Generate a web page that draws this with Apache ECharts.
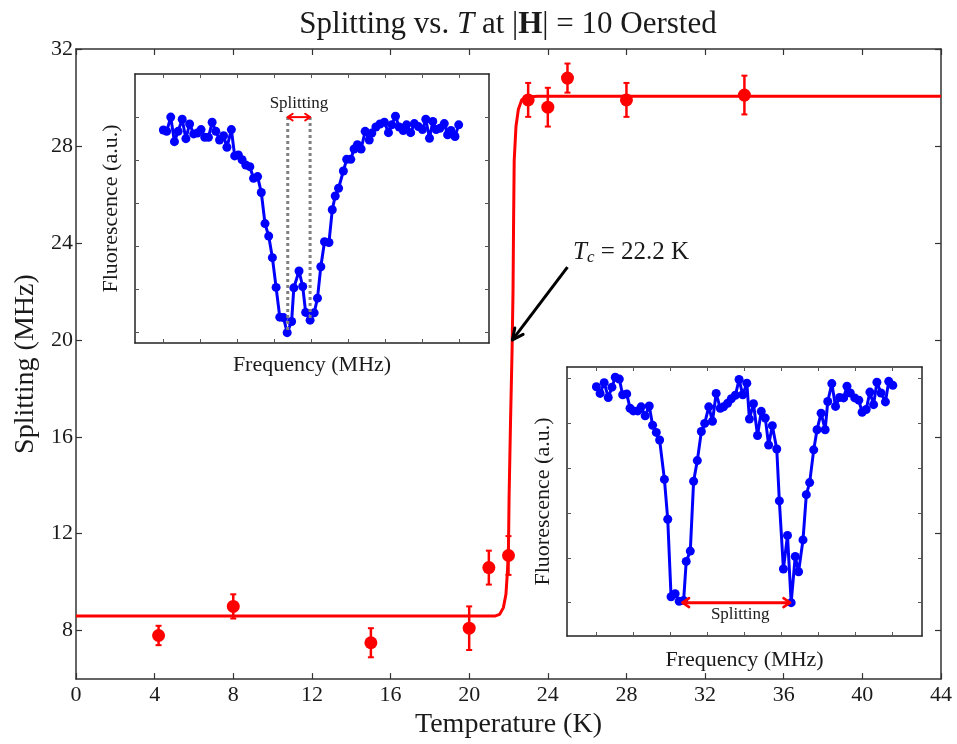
<!DOCTYPE html>
<html><head><meta charset="utf-8">
<script src="https://cdn.jsdelivr.net/npm/echarts@6/dist/echarts.min.js"></script>
<style>html,body{margin:0;padding:0;background:#fff}#c{width:957px;height:744px}</style>
</head><body><div id="c"></div>
<script>
// ---- main data ----
const temps = [4.2, 8, 15, 20, 21, 22, 23, 24, 25, 28, 34];
const splitting = [7.8, 9.0, 7.5, 8.1, 10.6, 11.1, 29.9, 29.6, 30.8, 29.9, 30.1];
const splittingErr = [0.4, 0.5, 0.6, 0.9, 0.7, 0.8, 0.7, 0.8, 0.6, 0.7, 0.8];
const fitT = [0, 21.3, 21.55, 21.74, 21.87, 21.95, 22.0, 22.03, 22.1, 22.18, 22.23, 22.26, 22.29, 22.38, 22.5, 22.67, 22.92, 23.5, 44];
const fitS = [8.6, 8.6, 8.67, 8.95, 9.5, 10.5, 11.5, 13.5, 16.5, 19.5, 22, 25, 27.4, 28.8, 29.5, 29.9, 30.02, 30.05, 30.05];
const xTicks = [0, 4, 8, 12, 16, 20, 24, 28, 32, 36, 40, 44];
const yTicks = [8, 12, 16, 20, 24, 28, 32];
// ---- inset 1 (single dip, small splitting) ----
const inset1X = [0.00,0.09,0.20,0.30,0.40,0.51,0.61,0.71,0.82,0.92,1.02,1.12,1.22,1.32,1.42,1.52,1.63,1.72,1.84,1.93,2.03,2.13,2.23,2.34,2.44,2.55,2.65,2.75,2.85,2.95,3.05,3.15,3.25,3.35,3.47,3.53,3.67,3.77,3.85,3.97,4.08,4.17,4.26,4.36,4.48,4.57,4.65,4.74,4.87,4.96,5.07,5.16,5.25,5.35,5.46,5.57,5.64,5.75,5.86,5.98,6.09,6.18,6.28,6.38,6.49,6.58,6.69,6.79,6.90,7.01,7.10,7.20,7.29,7.38,7.48,7.60,7.69,7.78,7.89,7.99];
const inset1Y = [4.70,4.67,5.00,4.43,4.67,4.95,4.50,4.84,4.61,4.63,4.71,4.53,4.53,4.88,4.67,4.47,4.57,4.30,4.71,4.10,4.12,4.01,3.89,3.85,3.58,3.62,3.25,2.53,2.24,1.74,1.05,0.36,0.35,0.00,0.26,1.04,1.43,1.07,0.47,0.29,0.46,0.80,1.53,2.11,2.09,2.85,3.17,3.35,3.75,4.02,4.02,4.26,4.36,4.26,4.67,4.47,4.63,4.77,4.84,4.88,4.64,4.82,5.02,4.77,4.69,4.82,4.64,4.85,4.78,4.71,4.95,4.51,4.90,4.71,4.74,4.85,4.59,4.69,4.55,4.82];
// ---- inset 2 (two dips, large splitting) ----
const inset2X = [0.00,0.10,0.21,0.32,0.42,0.51,0.62,0.71,0.82,0.91,1.00,1.12,1.21,1.32,1.43,1.52,1.62,1.71,1.84,1.93,2.02,2.13,2.24,2.36,2.43,2.54,2.63,2.73,2.84,2.93,3.04,3.14,3.24,3.35,3.44,3.55,3.65,3.76,3.86,3.96,4.07,4.14,4.25,4.36,4.46,4.57,4.66,4.76,4.88,4.95,5.06,5.17,5.27,5.38,5.47,5.59,5.68,5.77,5.88,5.97,6.08,6.19,6.26,6.37,6.47,6.58,6.69,6.78,6.87,6.99,7.10,7.19,7.30,7.40,7.50,7.59,7.70,7.82,7.91,8.02];
const inset2Y = [4.82,4.67,4.91,4.58,4.81,5.03,4.99,4.64,4.66,4.34,4.28,4.28,4.37,4.17,4.39,3.96,3.80,3.63,2.75,1.86,0.13,0.20,0.03,0.05,0.92,1.15,2.71,3.17,3.82,4.00,4.37,4.05,4.67,4.34,4.37,4.45,4.55,4.63,4.98,4.64,4.90,4.10,4.44,3.73,4.27,4.12,3.52,3.95,3.43,2.27,0.75,1.50,0.00,1.03,0.69,1.40,2.41,2.68,3.41,3.86,4.23,3.86,4.49,4.89,4.38,4.58,4.57,4.83,4.68,4.57,4.52,4.25,4.31,4.70,4.42,4.92,4.68,4.48,4.94,4.85];
const insetXTicks = [0, 1, 2, 3, 4, 5, 6, 7, 8];
const insetYTicks = [0, 1, 2, 3, 4, 5];

const FONT = 'Liberation Serif';
const TXT = '#1a1a1a';
const AX = '#333';

function zip(a, b) { return a.map((v, i) => [v, b[i]]); }

function mainAxis(pos, showLabel, isX) {
  const o = {
    gridIndex: 0, type: 'value', position: pos,
    axisLine: { show: true, onZero: false, lineStyle: { color: AX, width: 1.5 } },
    axisTick: { show: true, inside: true, length: 6, lineStyle: { color: AX, width: 1.2 } },
    axisLabel: { show: showLabel, color: TXT, fontFamily: FONT, fontSize: 22, margin: isX ? 5 : 3 },
    splitLine: { show: false }
  };
  if (isX) {
    o.min = 0; o.max = 44; o.interval = 4;
  } else {
    o.min = 6; o.max = 32;
    o.axisTick.customValues = yTicks;
    o.axisLabel.customValues = yTicks;
  }
  return o;
}
function insetAxis(grid, pos, isX, min, max, name, gap) {
  const o = {
    gridIndex: grid, type: 'value', position: pos, min: min, max: max, z: 4,
    axisLine: { show: true, onZero: false, lineStyle: { color: '#222', width: 1.5 } },
    axisTick: { show: true, inside: true, length: 4, customValues: isX ? insetXTicks : insetYTicks, lineStyle: { color: '#555', width: 1 } },
    axisLabel: { show: false },
    splitLine: { show: false }
  };
  if (name) {
    o.name = name; o.nameLocation = 'middle'; o.nameGap = gap;
    o.nameTextStyle = { color: TXT, fontFamily: FONT, fontSize: 22 };
  }
  return o;
}

const chart = echarts.init(document.getElementById('c'), null, { renderer: 'canvas' });

function arrowHead(tip, from, L, th, color, w) {
  const ang = Math.atan2(from[1] - tip[1], from[0] - tip[0]);
  return [th, -th].map(t => ({
    type: 'line',
    shape: { x1: tip[0], y1: tip[1], x2: tip[0] + L * Math.cos(ang + t), y2: tip[1] + L * Math.sin(ang + t) },
    style: { stroke: color, lineWidth: w, lineCap: 'round' }
  }));
}

const option = {
  animation: false,
  backgroundColor: '#fff',
  graphic: [{
    type: 'text', x: 508, y: 25,
    style: {
      text: '{a|Splitting vs. }{i|T}{a| at |}{b|H}{a|| = 10 Oersted}',
      align: 'center', verticalAlign: 'middle',
      rich: {
        a: { fontFamily: FONT, fontSize: 31, fill: TXT },
        i: { fontFamily: FONT, fontSize: 31, fontStyle: 'italic', fill: TXT },
        b: { fontFamily: FONT, fontSize: 31, fontWeight: 'bold', fill: TXT }
      }
    }
  }],
  grid: [
    { left: 76, right: 16, top: 49, bottom: 59, containLabel: false },
    { left: 135, top: 74, width: 354, height: 269, show: true, backgroundColor: '#fff', borderWidth: 0, z: 3 },
    { left: 567, top: 367, width: 355, height: 269, show: true, backgroundColor: '#fff', borderWidth: 0, z: 3 }
  ],
  xAxis: [
    Object.assign(mainAxis('bottom', true, true), { name: 'Temperature (K)', nameLocation: 'middle', nameGap: 25, nameTextStyle: { color: TXT, fontFamily: FONT, fontSize: 28 } }),
    mainAxis('top', false, true),
    insetAxis(1, 'bottom', true, -0.767, 8.81, 'Frequency (MHz)', 11),
    insetAxis(1, 'top', true, -0.767, 8.81),
    insetAxis(2, 'bottom', true, -0.796, 8.81, 'Frequency (MHz)', 13),
    insetAxis(2, 'top', true, -0.796, 8.81)
  ],
  yAxis: [
    Object.assign(mainAxis('left', true, false), { name: 'Splitting (MHz)', nameLocation: 'middle', nameGap: 26, nameTextStyle: { color: TXT, fontFamily: FONT, fontSize: 28 } }),
    mainAxis('right', false, false),
    insetAxis(1, 'left', false, -0.24, 6.0, 'Fluorescence (a.u.)', 13),
    insetAxis(1, 'right', false, -0.24, 6.0),
    insetAxis(2, 'left', false, -0.745, 5.26, 'Fluorescence (a.u.)', 13),
    insetAxis(2, 'right', false, -0.745, 5.26)
  ],
  series: [
    {
      type: 'line', xAxisIndex: 0, yAxisIndex: 0, data: zip(fitT, fitS),
      showSymbol: false, symbol: 'none', smooth: false,
      lineStyle: { color: '#ff0000', width: 3 }, z: 2
    },
    {
      type: 'custom', xAxisIndex: 0, yAxisIndex: 0,
      data: temps.map((t, i) => [t, splitting[i], splittingErr[i]]),
      renderItem: (params, api) => {
        const x = api.value(0), y = api.value(1), e = api.value(2);
        const top = api.coord([x, y + e]), bot = api.coord([x, y - e]);
        const c = 3;
        const st = { stroke: '#ff0000', lineWidth: 2.5 };
        return { type: 'group', children: [
          { type: 'line', shape: { x1: top[0], y1: top[1], x2: bot[0], y2: bot[1] }, style: st },
          { type: 'line', shape: { x1: top[0] - c, y1: top[1], x2: top[0] + c, y2: top[1] }, style: { stroke: '#ff0000', lineWidth: 2 } },
          { type: 'line', shape: { x1: bot[0] - c, y1: bot[1], x2: bot[0] + c, y2: bot[1] }, style: { stroke: '#ff0000', lineWidth: 2 } }
        ] };
      }, z: 3
    },
    {
      type: 'scatter', xAxisIndex: 0, yAxisIndex: 0, data: zip(temps, splitting),
      symbol: 'circle', symbolSize: 13, itemStyle: { color: '#ff0000', opacity: 1 }, z: 4
    },
    {
      type: 'custom', xAxisIndex: 0, yAxisIndex: 0, data: [[25.0, 23.0, 22.2, 20.0]],
      renderItem: (params, api) => {
        const p0 = api.coord([api.value(0), api.value(1)]);
        const p1 = api.coord([api.value(2), api.value(3)]);
        const tp = api.coord([25.28, 23.62]);
        return { type: 'group', children: [
          { type: 'line', shape: { x1: p0[0], y1: p0[1], x2: p1[0], y2: p1[1] }, style: { stroke: '#000', lineWidth: 3 } },
          ...arrowHead(p1, p0, 12, 0.45, '#000', 3),
          { type: 'text', x: tp[0], y: tp[1], style: {
            text: '{i|T}{s|c}{a| = 22.2 K}', align: 'left', verticalAlign: 'middle',
            rich: {
              i: { fontFamily: FONT, fontSize: 25, fontStyle: 'italic', fill: TXT },
              s: { fontFamily: FONT, fontSize: 17, fontStyle: 'italic', fill: TXT, verticalAlign: 'bottom', padding: [10, 0, 0, 0] },
              a: { fontFamily: FONT, fontSize: 25, fill: TXT }
            } } }
        ] };
      }, z: 5
    },
    // inset 1
    {
      type: 'line', xAxisIndex: 2, yAxisIndex: 2, data: zip(inset1X, inset1Y),
      symbol: 'circle', symbolSize: 9, showSymbol: true,
      lineStyle: { color: '#0000ff', width: 3 }, itemStyle: { color: '#0000ff', opacity: 1 }, z: 6
    },
    {
      type: 'custom', xAxisIndex: 2, yAxisIndex: 2, data: [[3.365, 3.97, 5.0]],
      renderItem: (params, api) => {
        const xa = api.value(0), xb = api.value(1), y = api.value(2);
        const a0 = api.coord([xa, y]), a1 = api.coord([xa, 0.05]);
        const b0 = api.coord([xb, y]), b1 = api.coord([xb, 0.3]);
        const t = api.coord([(xa + xb) / 2, 5.31]);
        const ds = { stroke: '#808080', lineWidth: 3, lineDash: [3, 3] };
        return { type: 'group', children: [
          { type: 'line', shape: { x1: a0[0], y1: a0[1], x2: a1[0], y2: a1[1] }, style: ds },
          { type: 'line', shape: { x1: b0[0], y1: b0[1], x2: b1[0], y2: b1[1] }, style: ds },
          { type: 'line', shape: { x1: a0[0], y1: a0[1], x2: b0[0], y2: b0[1] }, style: { stroke: '#ff0000', lineWidth: 2 } },
          ...arrowHead(a0, b0, 6, 0.6, '#ff0000', 2),
          ...arrowHead(b0, a0, 6, 0.6, '#ff0000', 2),
          { type: 'text', x: t[0], y: t[1], style: { text: 'Splitting', align: 'center', verticalAlign: 'middle', fontFamily: FONT, fontSize: 17, fill: TXT } }
        ] };
      }, z: 7
    },
    // inset 2
    {
      type: 'line', xAxisIndex: 4, yAxisIndex: 4, data: zip(inset2X, inset2Y),
      symbol: 'circle', symbolSize: 9, showSymbol: true,
      lineStyle: { color: '#0000ff', width: 3 }, itemStyle: { color: '#0000ff', opacity: 1 }, z: 6
    },
    {
      type: 'custom', xAxisIndex: 4, yAxisIndex: 4, data: [[2.33, 5.24, 0.0]],
      renderItem: (params, api) => {
        const a = api.coord([api.value(0), api.value(2)]);
        const b = api.coord([api.value(1), api.value(2)]);
        const t = api.coord([3.89, -0.27]);
        return { type: 'group', children: [
          { type: 'line', shape: { x1: a[0], y1: a[1], x2: b[0], y2: b[1] }, style: { stroke: '#ff0000', lineWidth: 3 } },
          ...arrowHead(a, b, 8, 0.6, '#ff0000', 2.5),
          ...arrowHead(b, a, 8, 0.6, '#ff0000', 2.5),
          { type: 'text', x: t[0], y: t[1], style: { text: 'Splitting', align: 'center', verticalAlign: 'middle', fontFamily: FONT, fontSize: 17, fill: TXT } }
        ] };
      }, z: 7
    }
  ]
};
chart.setOption(option);
</script>
</body></html>
